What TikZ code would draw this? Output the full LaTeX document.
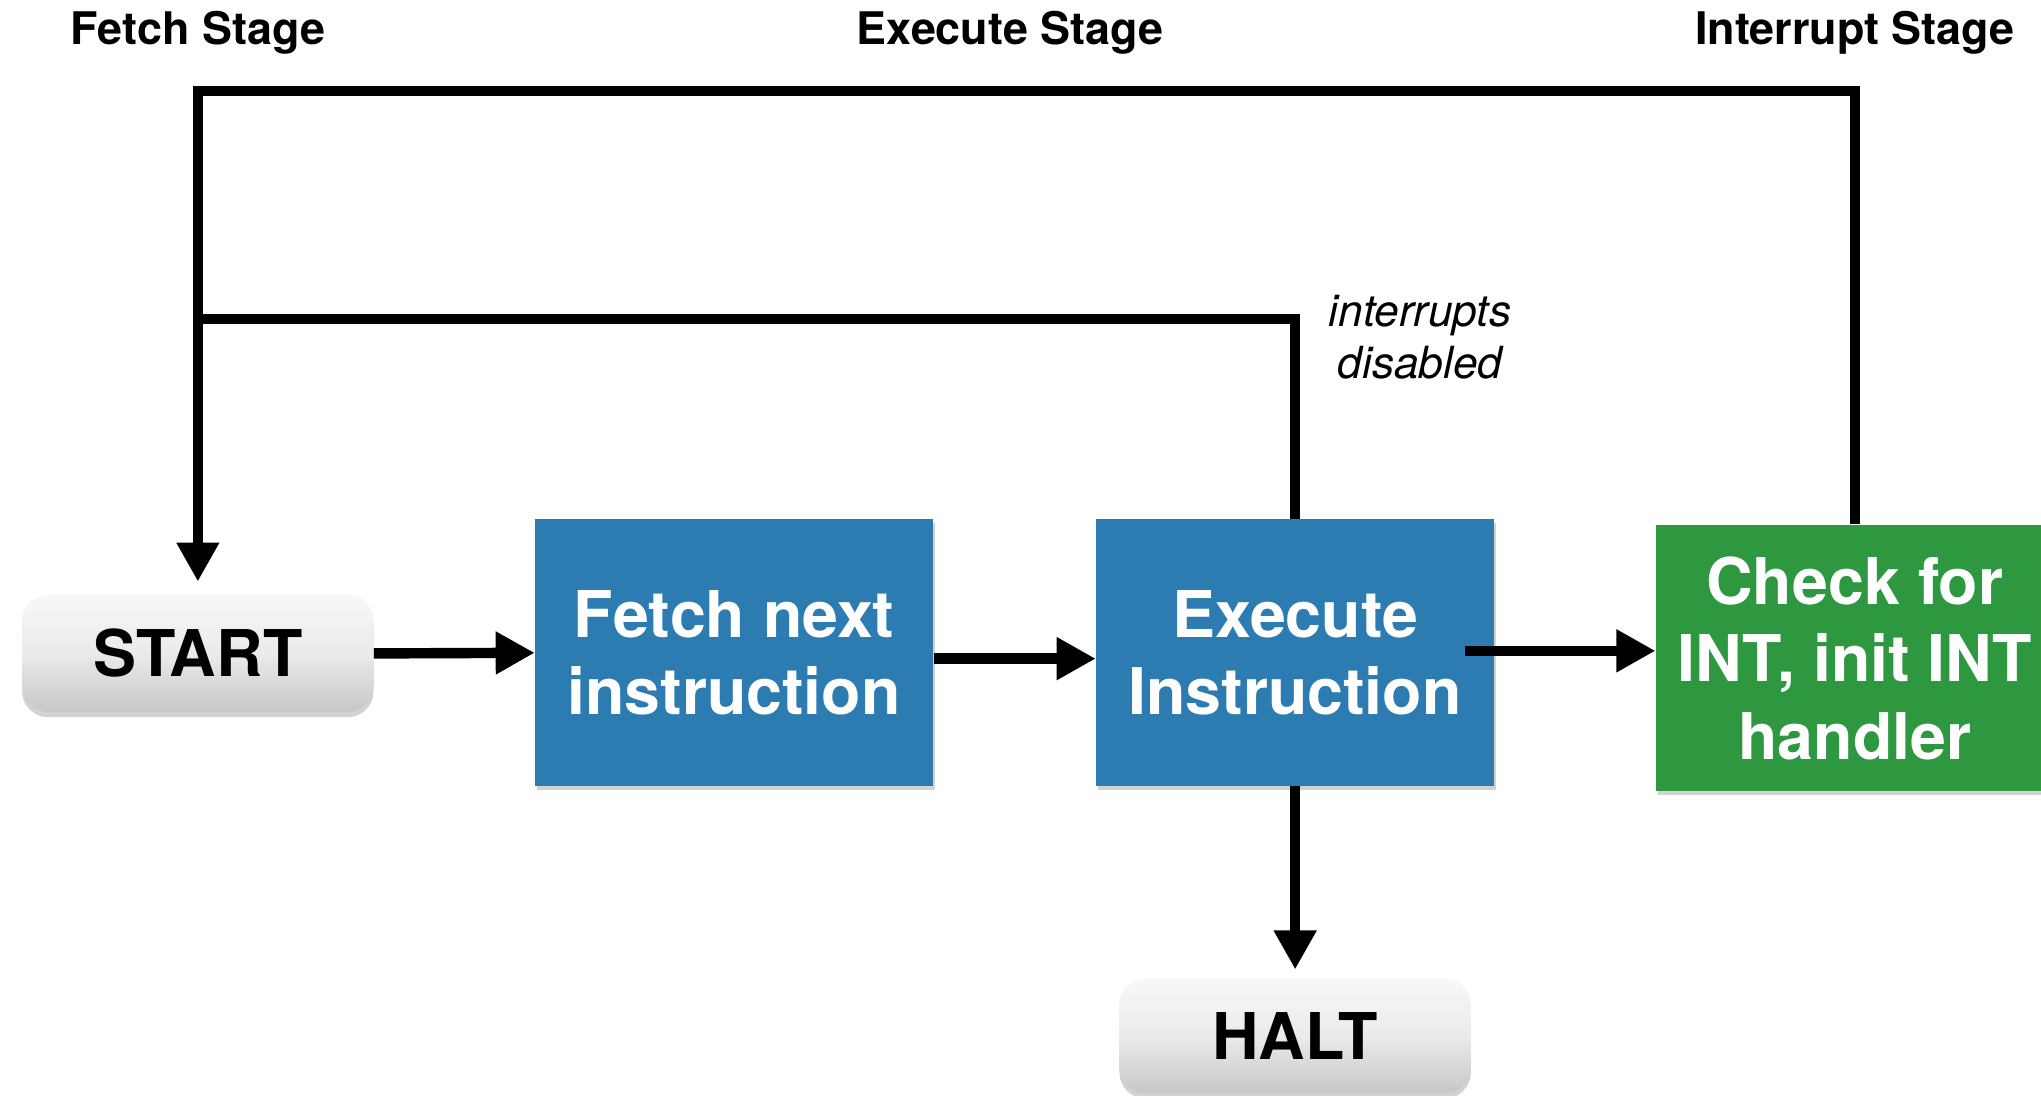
\documentclass[tikz,border=0pt]{standalone}
\usepackage{fontspec}
\setmainfont{TeX Gyre Heros}
\usetikzlibrary{arrows.meta,shadows}
\definecolor{boxblue}{RGB}{44,124,178}
\definecolor{boxgreen}{RGB}{46,152,64}
\begin{document}
\begin{tikzpicture}[x=1pt,y=-1pt,
  conn/.style={line width=8pt, line join=miter, draw=black},
  arr/.style={conn, -{Triangle[length=30pt,width=31pt]}},
  procbox/.style={rectangle, minimum width=306pt, minimum height=205pt, inner sep=0pt,
    text=white, align=center, font=\bfseries\fontsize{49.5}{59.5}\selectfont,
    drop shadow={opacity=0.35, shadow xshift=1.5pt, shadow yshift=-3pt}},
  termbox/.style={rectangle, rounded corners=20pt, minimum width=270pt, minimum height=90pt,
    inner sep=0pt, top color=white!97!black, bottom color=black!22, middle color=white!92!black,
    font=\bfseries\fontsize{49.5}{59.5}\selectfont,
    drop shadow={opacity=0.35, shadow xshift=0pt, shadow yshift=-4pt}},
  stagelabel/.style={font=\bfseries\fontsize{34.5}{40}\selectfont, inner sep=0pt},
  note/.style={font=\itshape\fontsize{34}{40}\selectfont, align=center, inner sep=0pt}
]
\useasboundingbox (0,0) rectangle (1568,842);
\fill[white] (0,0) rectangle (1568,842);

% stage labels
\node[stagelabel] (lf) at (152,25) {Fetch Stage};
\node[stagelabel] (le) at (776,25) {Execute Stage};
\node[stagelabel] (li) at (1425,25) {Interrupt Stage};

% nodes
\node[termbox] (start) at (152,502) {START};
\node[procbox, fill=boxblue] (fetch) at (564,501.5) {Fetch next\\instruction};
\node[procbox, fill=boxblue] (exec) at (995,501.5) {Execute\\Instruction};
\node[procbox, fill=boxgreen, minimum width=306pt] (chk) at (1425,505.5) {Check for\\INT, init INT\\handler};
\node[termbox, minimum height=88pt] (halt) at (995,796) {HALT};

\node[note] (intd) at (1091,259) {interrupts\\disabled};

% coordinates for loops
\coordinate (topL) at (152,70);
\coordinate (midL) at (152,245);

% connectors
\draw[arr] (start.east) -- (fetch.west);
\draw[arr] ([yshift=-4.5pt]fetch.east) -- ([yshift=-4.5pt]exec.west);
\draw[arr] ([xshift=-23pt,yshift=1.5pt]exec.east) -- ([yshift=5.5pt]chk.west);
\draw[arr, shorten >=7pt] (exec.south) -- (halt.north);
\draw[arr, shorten >=10pt] (chk.north) |- (topL) -- (start.north);
\draw[conn] (exec.north) |- (midL);
\end{tikzpicture}
\end{document}
